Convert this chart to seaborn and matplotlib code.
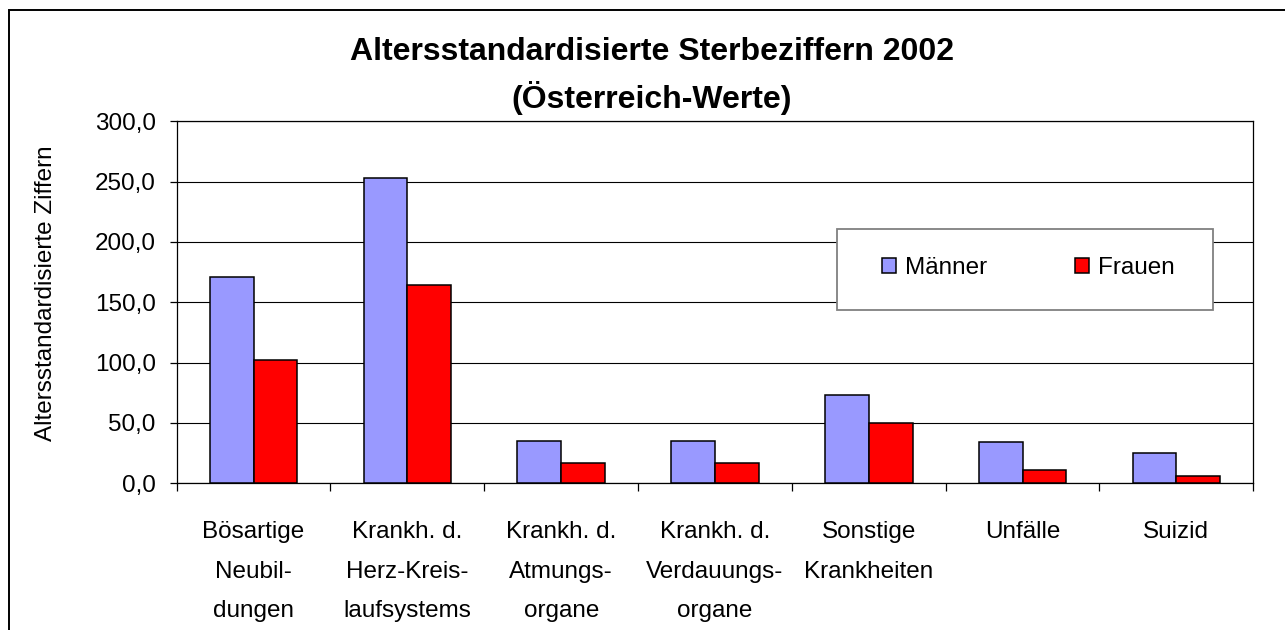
import numpy as np
import pandas as pd
import matplotlib
matplotlib.use("Agg")
import matplotlib.pyplot as plt
import seaborn as sns
from matplotlib.patches import Patch, Rectangle
from matplotlib.ticker import FuncFormatter, FixedLocator

CATEGORIES = [
    "Bösartige\nNeubil-\ndungen",
    "Krankh. d.\nHerz-Kreis-\nlaufsystems",
    "Krankh. d.\nAtmungs-\norgane",
    "Krankh. d.\nVerdauungs-\norgane",
    "Sonstige\nKrankheiten",
    "Unfälle",
    "Suizid",
]
MAENNER = [171, 253, 35, 35, 73, 34, 25]
FRAUEN  = [102, 164, 17, 17, 50, 11, 6]
SERIES  = ["Männer", "Frauen"]
COLORS  = {"Männer": "#9999FF", "Frauen": "#FF0000"}

TITLE  = "Altersstandardisierte Sterbeziffern 2002\n(Österreich-Werte)"
YLABEL = "Altersstandardisierte Ziffern"
YTICKS = [0, 50, 100, 150, 200, 250, 300]

W, H = 1285, 630

sns.set_theme(style="white")
plt.rcParams["font.family"] = ["Liberation Sans", "DejaVu Sans"]
plt.rcParams.update({"text.color": "black", "axes.labelcolor": "black",
                     "xtick.color": "black", "ytick.color": "black"})

df = pd.DataFrame({
    "Kategorie": CATEGORIES * 2,
    "Wert": MAENNER + FRAUEN,
    "Geschlecht": [SERIES[0]] * len(CATEGORIES) + [SERIES[1]] * len(CATEGORIES),
})

fig = plt.figure(figsize=(W / 100, H / 100), dpi=100)
ax = fig.add_axes([176.7 / W, 1 - 483.3 / H, (1253.3 - 176.7) / W, (483.3 - 121.3) / H])

sns.barplot(
    data=df, x="Kategorie", y="Wert", hue="Geschlecht",
    order=CATEGORIES, hue_order=SERIES, palette=COLORS,
    width=0.57, edgecolor="black", linewidth=1.1, saturation=1,
    legend=False, ax=ax, zorder=3,
)

# axes, grid, ticks
ax.set_ylim(0, 300)
ax.set_xlim(-0.5, len(CATEGORIES) - 0.5)
ax.set_yticks(YTICKS)
ax.yaxis.set_major_formatter(FuncFormatter(lambda v, _: f"{v:.1f}".replace(".", ",")))
ax.yaxis.grid(True, color="black", lw=0.8)
ax.set_axisbelow(True)
for s in ax.spines.values():
    s.set_color("black")
    s.set_linewidth(0.9)

ax.xaxis.set_minor_locator(FixedLocator(np.arange(-0.5, len(CATEGORIES), 1.0)))
ax.tick_params(axis="x", which="major", length=0, pad=27, labelsize=17.5)
ax.tick_params(axis="x", which="minor", length=6, width=0.9, color="black", direction="out", bottom=True)
ax.tick_params(axis="y", length=5, width=0.9, color="black", direction="out", left=True, pad=10, labelsize=17.5)
for lbl in ax.get_xticklabels():
    lbl.set_linespacing(2.05)
ax.set_xlabel("")
ax.set_ylabel(YLABEL, fontsize=17.5)
ax.yaxis.label.set_va("center")
ax.yaxis.set_label_coords((46 - 176.7) / (1253.3 - 176.7), (483.3 - 293) / (483.3 - 121.3))

# title
fig.text(652 / W, 1 - 76 / H, TITLE, ha="center", va="center",
         fontsize=23, fontweight="bold", linespacing=1.55)

# legend box + legend
fig.patches.append(Rectangle((837 / W, 1 - 310 / H), (1213 - 837) / W, (310 - 229) / H,
                             transform=fig.transFigure, facecolor="white",
                             edgecolor="#808080", lw=1.3, zorder=2))
handles = [Patch(facecolor=COLORS[s], edgecolor="black", lw=1.1, label=s) for s in SERIES]
fig.legend(handles=handles, loc="center", bbox_to_anchor=(1028.5 / W, 1 - 268 / H),
           ncol=2, frameon=False, fontsize=17.5, handlelength=0.58, handleheight=0.58,
           handletextpad=0.37, columnspacing=3.6, borderpad=0)

# outer chart frame (runs off the right and bottom edges)
fig.patches.append(Rectangle((8.5 / W, -0.2), 1.2, 1 - 10 / H + 0.2,
                             transform=fig.transFigure, facecolor="none",
                             edgecolor="black", lw=1.4, zorder=1))

fig.savefig("out.png", dpi=100)
